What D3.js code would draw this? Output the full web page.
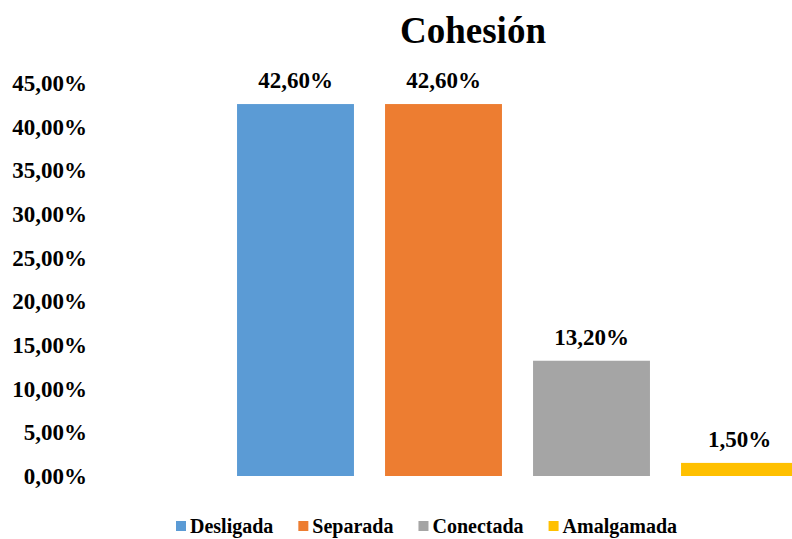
<!DOCTYPE html>
<html>
<head>
<meta charset="utf-8">
<script src="https://cdn.jsdelivr.net/npm/d3@7"></script>
<style>
  html, body { margin: 0; padding: 0; background: #fff; overflow: hidden; }
  text { font-family: "Liberation Serif", "Times New Roman", serif; font-weight: bold; fill: #000; }
</style>
</head>
<body>
<div id="chart"></div>
<script>
'use strict';

// chart data
const categories = ['Desligada', 'Separada', 'Conectada', 'Amalgamada'];
const values = [42.6, 42.6, 13.2, 1.5];
const colors = ['#5B9BD5', '#ED7D31', '#A5A5A5', '#FFC000'];
const yTicks = [0, 5, 10, 15, 20, 25, 30, 35, 40, 45];
const title = 'Cohesión';

const width = 792,
    height = 539;

const svg = d3.select('#chart').append('svg')
    .attr('width', width)
    .attr('height', height);

// spanish style numbers: 42,60%
const es = d3.formatLocale({ decimal: ',', thousands: '.', grouping: [3], currency: ['', '€'] });
const fmt = v => es.format('.2f')(v) + '%';

const x = d3.scaleBand()
    .domain(categories)
    .range([221.5, 813.5])
    .paddingInner(0.21)
    .paddingOuter(0.105);

const y = d3.scaleLinear()
    .domain([0, 45])
    .range([476, 83.1]);

// title
svg.append('text')
    .attr('x', 473)
    .attr('y', 43)
    .attr('text-anchor', 'middle')
    .attr('font-size', 37)
    .text(title);

// y axis labels only, no line, no grid
const yAxis = svg.append('g')
    .attr('transform', 'translate(87,0)')
    .call(d3.axisLeft(y).tickValues(yTicks).tickFormat(fmt).tickSize(0).tickPadding(0));
yAxis.select('.domain').remove();
yAxis.selectAll('text')
    .attr('font-size', 23)
    .attr('font-family', '"Liberation Serif", "Times New Roman", serif')
    .attr('font-weight', 'bold')
    .attr('fill', '#000');

// bars
const bars = svg.append('g').selectAll('.bar')
    .data(categories)
    .enter()
    .append('g')
    .attr('class', 'bar');

bars.append('rect')
    .attr('x', d => x(d))
    .attr('y', (d, i) => y(values[i]))
    .attr('width', x.bandwidth())
    .attr('height', (d, i) => y(0) - y(values[i]))
    .style('fill', (d, i) => colors[i]);

bars.append('text')
    .attr('x', d => x(d) + x.bandwidth() / 2)
    .attr('y', (d, i) => y(values[i]) - 16)
    .attr('text-anchor', 'middle')
    .attr('font-size', 23)
    .text((d, i) => fmt(values[i]));

// legend
const legend = svg.append('g').attr('transform', 'translate(176,0)');
let lx = 0;
categories.forEach((c, i) => {
    legend.append('rect')
        .attr('x', lx)
        .attr('y', 521)
        .attr('width', 10)
        .attr('height', 10)
        .style('fill', colors[i]);
    const t = legend.append('text')
        .attr('x', lx + 14)
        .attr('y', 533)
        .attr('font-size', 20)
        .text(c);
    lx += 14 + t.node().getComputedTextLength() + 25;
});
</script>
</body>
</html>
